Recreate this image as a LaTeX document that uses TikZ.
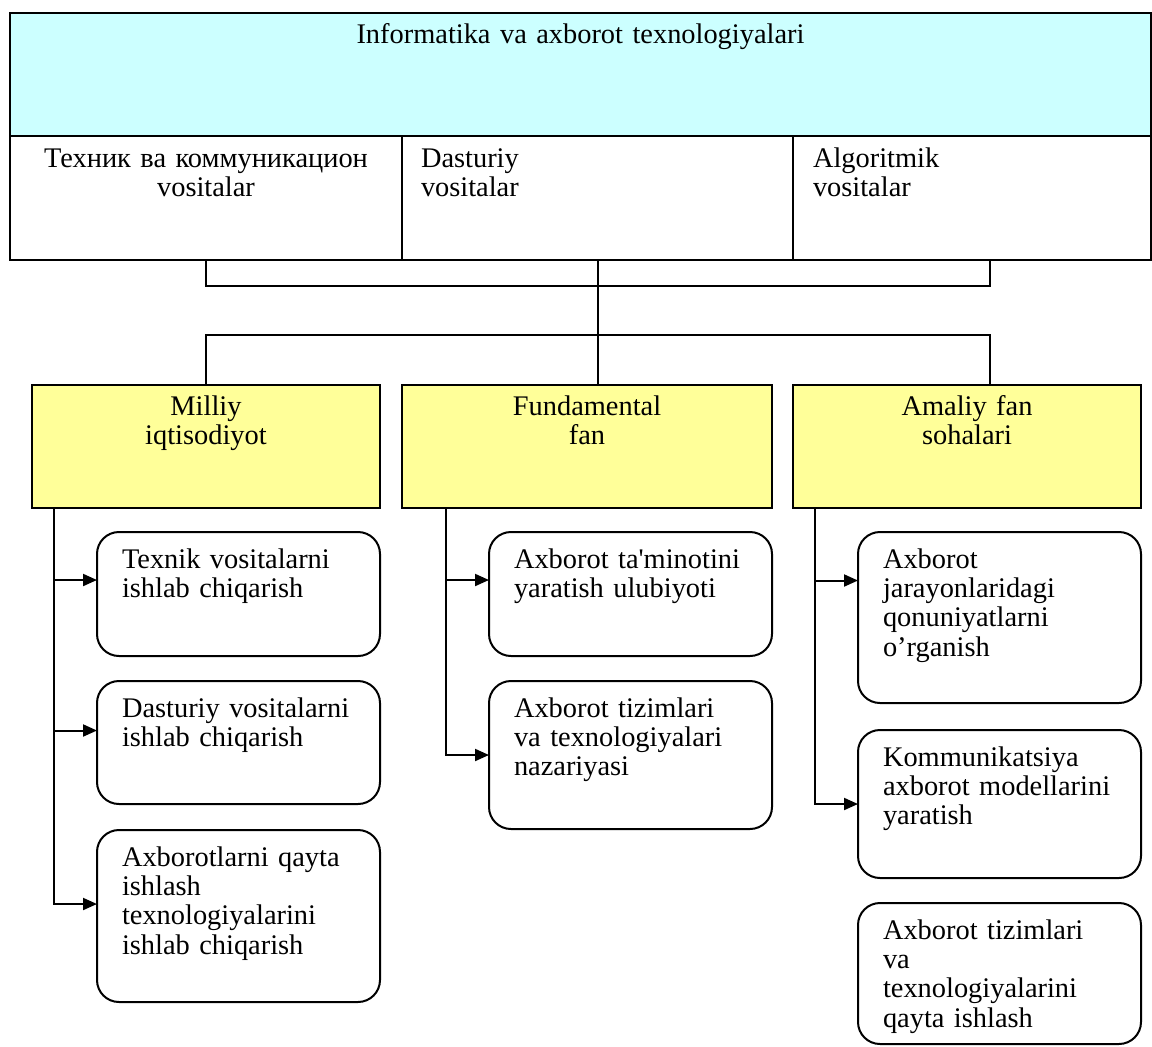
\documentclass[tikz,border=0pt]{standalone}
\usepackage{fontspec}
\setmainfont{Liberation Serif}
\usepackage{tikz}
\usetikzlibrary{arrows.meta, positioning}
\definecolor{HeadCyan}{HTML}{CCFFFF}
\definecolor{FieldYellow}{HTML}{FFFF99}
\newcommand{\boxfont}{\fontsize{14.2pt}{14.7pt}\selectfont}
\tikzset{
  % Box styles
  headbox/.style={rectangle, draw=black, line width=1pt, fill=HeadCyan, anchor=north west, inner sep=0pt, outer sep=0pt, text width=570.5pt, text height=15pt, text depth=46.5pt, align=center, font=\boxfont},
  cellbox/.style={rectangle, draw=black, line width=1pt, fill=white, anchor=north west, inner ysep=0pt, outer sep=0pt, text height=15.5pt, text depth=46.5pt, font=\boxfont},
  fieldbox/.style={rectangle, draw=black, line width=1pt, fill=FieldYellow, anchor=north west, inner sep=0pt, outer sep=0pt, text height=15pt, text depth=46.5pt, align=center, font=\boxfont},
  itembox/.style={rectangle, rounded corners=11pt, draw=black, line width=1pt, fill=white, inner xsep=12.5pt, inner ysep=0pt, outer sep=0pt, text width=116.5pt, text height=18pt, align=left, font=\boxfont},
  % Arrow styles
  link/.style={line width=1pt},
  arrow/.style={->, >={Triangle[length=7pt, width=6pt]}, line width=1pt}
}

\begin{document}
\begin{tikzpicture}[x=0.5pt, y=-0.5pt]
  \useasboundingbox (0,0) rectangle (1152,1046);

  % Top block
  \node[headbox] (info) at (10,13) {Informatika va axborot texnologiyalari};
  \node[cellbox, text width=196pt, inner xsep=0pt, align=center] (tech) at (10,136) {Техник ва коммуникацион\\vositalar};
  \node[cellbox, text width=176.5pt, inner xsep=9.5pt, align=left, right=0pt of tech] (dastur) {Dasturiy\\vositalar};
  \node[cellbox, text width=159pt, inner xsep=10pt, align=left, right=0pt of dastur] (algor) {Algoritmik\\vositalar};

  % Fields
  \node[fieldbox, text width=174pt] (milliy) at (32,385) {Milliy\\iqtisodiyot};
  \node[fieldbox, text width=185pt, right=11pt of milliy] (fund) {Fundamental\\fan};
  \node[fieldbox, text width=174pt, right=10.5pt of fund] (amaliy) {Amaliy fan\\sohalari};

  % Milliy iqtisodiyot
  \node[itembox, anchor=north west, text depth=44pt] (l1) at (97,532) {Texnik vositalarni\\ishlab chiqarish};
  \node[itembox, text depth=43.5pt, below=12.5pt of l1] (l2) {Dasturiy vositalarni\\ishlab chiqarish};
  \node[itembox, text depth=68pt, below=13pt of l2] (l3) {Axborotlarni qayta\\ishlash\\texnologiyalarini\\ishlab chiqarish};

  % Fundamental fan
  \node[itembox, anchor=north west, text depth=44pt] (m1) at (489,532) {Axborot ta\textquotesingle minotini\\yaratish ulubiyoti};
  \node[itembox, text depth=56pt, below=12.5pt of m1] (m2) {Axborot tizimlari\\va texnologiyalari\\nazariyasi};

  % Amaliy fan sohalari
  \node[itembox, anchor=north west, text depth=67.5pt] (r1) at (858,532) {Axborot\\jarayonlaridagi\\qonuniyatlarni\\o'rganish};
  \node[itembox, text depth=56pt, below=13.5pt of r1] (r2) {Kommunikatsiya\\axborot modellarini\\yaratish};
  \node[itembox, text depth=52.5pt, below=12.5pt of r2] (r3) {Axborot tizimlari\\va\\texnologiyalarini\\qayta ishlash};

  % Connectors
  \coordinate (upbar) at (dastur.south |- 0,286);
  \coordinate (lowbar) at (dastur.south |- 0,335);
  \draw[link] (tech.south) |- (upbar) -| ([xshift=9pt]algor.south);
  \draw[link] (dastur.south) -- (lowbar);
  \draw[link] (milliy.north) |- (lowbar) -| ([xshift=11.5pt]amaliy.north);
  \draw[link] (lowbar) -- (lowbar |- fund.north);

  % Arrows
  \draw[arrow] ([xshift=11pt]milliy.south west) |- ([yshift=7pt]l1.west);
  \draw[arrow] ([xshift=11pt]milliy.south west) |- ([yshift=6pt]l2.west);
  \draw[arrow] ([xshift=11pt]milliy.south west) |- ([yshift=6pt]l3.west);
  \draw[arrow] ([xshift=22pt]fund.south west) |- ([yshift=7pt]m1.west);
  \draw[arrow] ([xshift=22pt]fund.south west) |- (m2.west);
  \draw[arrow] ([xshift=11pt]amaliy.south west) |- ([yshift=18.5pt]r1.west);
  \draw[arrow] ([xshift=11pt]amaliy.south west) |- (r2.west);
\end{tikzpicture}
\end{document}
